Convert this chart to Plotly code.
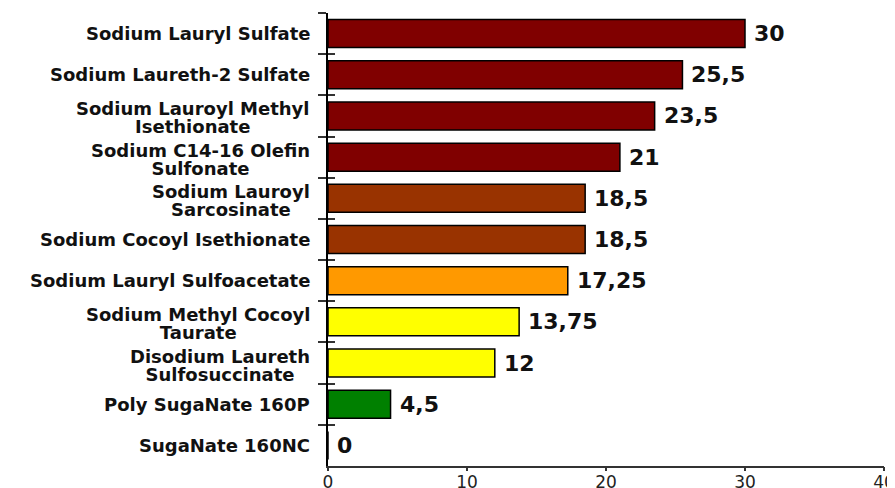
import plotly.graph_objects as go

categories = [
    "Sodium Lauryl Sulfate",
    "Sodium Laureth-2 Sulfate",
    "Sodium Lauroyl Methyl Isethionate",
    "Sodium C14-16 Olefin Sulfonate",
    "Sodium Lauroyl Sarcosinate",
    "Sodium Cocoyl Isethionate",
    "Sodium Lauryl Sulfoacetate",
    "Sodium Methyl Cocoyl Taurate",
    "Disodium Laureth Sulfosuccinate",
    "Poly SugaNate 160P",
    "SugaNate 160NC",
]
display_labels = [
    ["Sodium Lauryl Sulfate"],
    ["Sodium Laureth-2 Sulfate"],
    ["Sodium Lauroyl Methyl", "Isethionate"],
    ["Sodium C14-16 Olefin", "Sulfonate"],
    ["Sodium Lauroyl", "Sarcosinate"],
    ["Sodium Cocoyl Isethionate"],
    ["Sodium Lauryl Sulfoacetate"],
    ["Sodium Methyl Cocoyl", "Taurate"],
    ["Disodium Laureth", "Sulfosuccinate"],
    ["Poly SugaNate 160P"],
    ["SugaNate 160NC"],
]
values = [30, 25.5, 23.5, 21, 18.5, 18.5, 17.25, 13.75, 12, 4.5, 0]
value_labels = ["30", "25,5", "23,5", "21", "18,5", "18,5", "17,25", "13,75", "12", "4,5", "0"]
bar_colors = ["#800000", "#800000", "#800000", "#800000", "#993300", "#993300",
              "#FF9900", "#FFFF00", "#FFFF00", "#008000", "#008000"]
x_ticks = [0, 10, 20, 30, 40]

# small base size sets the line spacing (1.3em), spans set the visible size
LABEL_FONT = dict(family="DejaVu Sans", size=14, color="#111111", weight="bold")
LABEL_SPAN = "<span style='font-size:18px'>{}</span>"
VALUE_FONT = dict(family="DejaVu Sans", size=22, color="#111111", weight="bold")

fig = go.Figure()
fig.add_trace(go.Bar(
    x=values, y=categories, orientation="h",
    marker=dict(color=bar_colors, line=dict(color="#000000", width=1.5)),
    width=0.68, hoverinfo="skip", showlegend=False,
))
# invisible copy on overlay axes to carry the extra tick marks
fig.add_trace(go.Bar(
    x=values, y=categories, orientation="h", xaxis="x2", yaxis="y2",
    marker=dict(color="rgba(0,0,0,0)", line=dict(width=0)),
    hoverinfo="skip", showlegend=False,
))

for cat, lines in zip(categories, display_labels):
    text = "<br>".join(LABEL_SPAN.format(l) for l in lines)
    fig.add_annotation(x=0, xref="paper", y=cat, yref="y", text=text,
                       xanchor="right", yanchor="middle", align="center",
                       xshift=-16, yshift=-2 if len(lines) > 1 else 0,
                       showarrow=False, font=LABEL_FONT)

for cat, v, vl in zip(categories, values, value_labels):
    fig.add_annotation(x=v, xref="x", y=cat, yref="y", text=vl,
                       xanchor="left", yanchor="middle", xshift=7,
                       showarrow=False, font=VALUE_FONT)

fig.update_layout(
    width=895, height=480,
    margin=dict(l=320, r=19, t=5, b=22),
    paper_bgcolor="white", plot_bgcolor="white",
    xaxis=dict(range=[0, 40], tickvals=x_ticks, ticktext=[str(t) for t in x_ticks],
               automargin=False,
               showgrid=False, zeroline=False, showline=True, linecolor="#333333",
               linewidth=1.5, ticks="", ticklabelstandoff=0,
               tickfont=dict(family="DejaVu Sans", size=17, color="#222222")),
    xaxis2=dict(overlaying="x", anchor="y", side="bottom", range=[0, 40],
                tickvals=x_ticks, automargin=False, showticklabels=False,
                showgrid=False, zeroline=False, showline=False,
                ticks="outside", ticklen=4, tickwidth=1.5, tickcolor="#333333"),
    yaxis=dict(type="category", categoryorder="array", categoryarray=categories,
               automargin=False,
               range=[10.5, -0.5], showticklabels=False, showgrid=False,
               zeroline=False, showline=True, linecolor="#000000", linewidth=1.5,
               ticks="outside", tickson="boundaries", ticklen=8, tickwidth=1.5,
               tickcolor="#333333"),
    yaxis2=dict(overlaying="y", side="left", anchor="x2", type="category",
                categoryorder="array", categoryarray=categories, automargin=False,
                range=[10.5, -0.5], showticklabels=False, showgrid=False,
                zeroline=False, showline=False,
                ticks="inside", tickson="boundaries", ticklen=7, tickwidth=1.5,
                tickcolor="#333333"),
)

fig.write_html("out.html")
